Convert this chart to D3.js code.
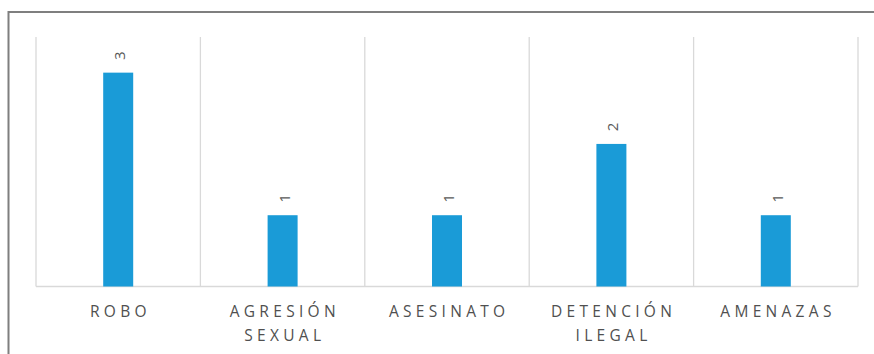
<!DOCTYPE html>
<html>
<head>
<meta charset="utf-8">
<script src="https://cdn.jsdelivr.net/npm/d3@7/dist/d3.min.js"></script>
<style>
  html, body { margin: 0; padding: 0; background: #fff; }
  svg { display: block; }
</style>
</head>
<body>
<svg id="chart" width="874" height="354"></svg>
<script>
// Incident categories (each label may wrap onto two lines)
const categories = ["ROBO", "AGRESIÓN SEXUAL", "ASESINATO", "DETENCIÓN ILEGAL", "AMENAZAS"];
const categoryLines = [["ROBO"], ["AGRESIÓN", "SEXUAL"], ["ASESINATO"], ["DETENCIÓN", "ILEGAL"], ["AMENAZAS"]];
const counts = [3, 1, 1, 2, 1];
const yMax = 3.5;

const svg = d3.select("#chart");
const W = 874, H = 354;
const plot = { left: 36, right: 858, top: 37, bottom: 286.5 };

// Outer frame: top and left edges
svg.append("line").attr("x1", 8.5).attr("x2", W).attr("y1", 12).attr("y2", 12)
  .attr("stroke", "#7f7f7f").attr("stroke-width", 2);
svg.append("line").attr("x1", 8.5).attr("x2", 8.5).attr("y1", 11).attr("y2", H)
  .attr("stroke", "#7f7f7f").attr("stroke-width", 2);

const x = d3.scaleBand().domain(categories).range([plot.left, plot.right]).padding(0);
const y = d3.scaleLinear().domain([0, yMax]).range([plot.bottom, plot.top]);
const barW = 30;

// Vertical category dividers
const edges = categories.map(c => x(c)).concat([plot.right]);
svg.append("g").selectAll("line").data(edges).join("line")
  .attr("x1", d => d).attr("x2", d => d)
  .attr("y1", plot.top).attr("y2", plot.bottom)
  .attr("stroke", "#d9d9d9").attr("stroke-width", 1.3);

// Baseline
svg.append("line").attr("x1", plot.left).attr("x2", plot.right)
  .attr("y1", plot.bottom).attr("y2", plot.bottom)
  .attr("stroke", "#d9d9d9").attr("stroke-width", 1.5);

// Bars
svg.append("g").selectAll("rect").data(categories).join("rect")
  .attr("x", c => x(c) + x.bandwidth() / 2 - barW / 2)
  .attr("width", barW)
  .attr("y", (c, i) => y(counts[i]))
  .attr("height", (c, i) => plot.bottom - y(counts[i]))
  .attr("fill", "#1a9bd7");

// Rotated value labels above each bar
svg.append("g").selectAll("text").data(categories).join("text")
  .attr("transform", (c, i) => `translate(${x(c) + x.bandwidth() / 2 + 1},${y(counts[i]) - 17}) rotate(-90)`)
  .attr("text-anchor", "middle")
  .attr("dominant-baseline", "central")
  .attr("font-family", "'Open Sans', sans-serif")
  .attr("font-size", 15)
  .attr("fill", "#595959")
  .text((c, i) => counts[i]);

// Category labels, letter-spaced
const lab = svg.append("g").selectAll("text").data(categories).join("text")
  .attr("text-anchor", "middle")
  .attr("font-family", "'Open Sans', sans-serif")
  .attr("font-size", 15.5)
  .attr("letter-spacing", 4.3)
  .attr("fill", "#505050");
lab.each(function (c, i) {
  const t = d3.select(this);
  categoryLines[i].forEach((line, k) => {
    t.append("tspan")
      .attr("x", x(c) + x.bandwidth() / 2 + 2.2)
      .attr("y", 316.5 + k * 24)
      .text(line);
  });
});
</script>
</body>
</html>
